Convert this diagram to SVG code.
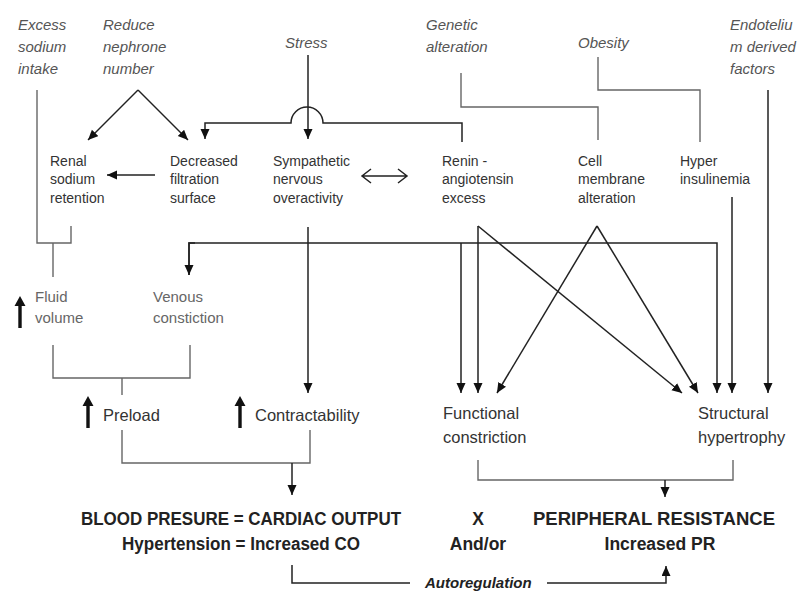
<svg xmlns="http://www.w3.org/2000/svg" width="800" height="593" viewBox="0 0 800 593">
<style>
text{font-family:"Liberation Sans",Arial,sans-serif}
.cause{font-size:15px;font-style:italic;fill:#555}
.node{font-size:14px;fill:#333}
.mid{font-size:15px;fill:#666}
.big{font-size:16.5px;fill:#333}
.res{font-size:17.5px;font-weight:bold;fill:#222}
.auto{font-size:15px;font-weight:bold;font-style:italic;fill:#222}
.ln{fill:none;stroke:#222;stroke-width:1.5}
.gl{fill:none;stroke:#666;stroke-width:1.4}
.up{fill:#111}
</style>
<defs>
<marker id="ah" markerUnits="userSpaceOnUse" markerWidth="11" markerHeight="10" refX="10" refY="4.5" orient="auto">
<path d="M0,0 L10,4.5 L0,9 z" fill="#111"/>
</marker>
<polygon id="uparrow" points="0,0 5.5,10 1.7,10 1.7,32 -1.7,32 -1.7,10 -5.5,10"/>
</defs>
<rect width="800" height="593" fill="#fff"/>

<g id="connectors">
<!-- Excess sodium intake bracket -->
<path class="gl" d="M37,90 V243 H71 V226 M53,243 V277"/>
<!-- Reduce nephrone number -->
<path class="ln" d="M138,90 L88,140" marker-end="url(#ah)"/>
<path class="ln" d="M138,90 L188,140" marker-end="url(#ah)"/>
<!-- Stress -->
<path class="ln" d="M308,55 V139" marker-end="url(#ah)"/>
<!-- Renin to Decreased filtration with hop -->
<path class="ln" d="M462,142 V123 H323 A16,16 0 0 0 291,123 H205 V139" marker-end="url(#ah)"/>
<!-- Decreased -> Renal -->
<path class="ln" d="M155,175 H107" marker-end="url(#ah)"/>
<!-- Double arrow -->
<path class="ln" d="M362,176 H407 M371,169 L362,176 L371,183 M398,169 L407,176 L398,183"/>
<!-- Genetic -->
<path class="gl" d="M461,73 V107 H598 V140"/>
<!-- Obesity -->
<path class="gl" d="M598,57 V90 H700 V142"/>
<!-- Endothelium -->
<path class="ln" d="M768,90 V393" marker-end="url(#ah)"/>
<!-- Hyperinsulinemia -->
<path class="ln" d="M732,197 V393" marker-end="url(#ah)"/>
<!-- horizontal distribution line -->
<path class="ln" d="M189,275 V243 H717 V393" marker-end="url(#ah)"/>
<path class="ln" d="M195,243 H189 V275" marker-end="url(#ah)"/>
<path class="ln" d="M461,243 V393" marker-end="url(#ah)"/>
<!-- Sympathetic -> Contractability -->
<path class="ln" d="M308,227 V393" marker-end="url(#ah)"/>
<!-- Renin -->
<path class="ln" d="M478,226 V393" marker-end="url(#ah)"/>
<path class="ln" d="M478,226 L682,393" marker-end="url(#ah)"/>
<!-- Cell membrane -->
<path class="ln" d="M597,226 L497,393" marker-end="url(#ah)"/>
<path class="ln" d="M597,226 L698,393" marker-end="url(#ah)"/>
<!-- Fluid / Venous bracket -->
<path class="gl" d="M53,345 V378 H190 V345 M122,378 V395"/>
<!-- Preload / Contractability bracket -->
<path class="gl" d="M122,430 V463 H310 V430"/>
<path class="ln" d="M292,463 V495" marker-end="url(#ah)"/>
<!-- Functional / Structural bracket -->
<path class="gl" d="M478,460 V480 H733 V460"/>
<path class="ln" d="M665,480 V497" marker-end="url(#ah)"/>
<!-- Autoregulation -->
<path class="ln" d="M292,565 V583 H410"/>
<path class="ln" d="M547,583 H666 V566" marker-end="url(#ah)"/>
</g>

<g id="excess-sodium"><text class="cause" x="18" y="30">Excess</text><text class="cause" x="18" y="52">sodium</text><text class="cause" x="18" y="74">intake</text></g>
<g id="reduce-nephrone"><text class="cause" x="103" y="30">Reduce</text><text class="cause" x="103" y="52">nephrone</text><text class="cause" x="103" y="74">number</text></g>
<g id="stress"><text class="cause" x="285" y="48">Stress</text></g>
<g id="genetic"><text class="cause" x="426" y="30">Genetic</text><text class="cause" x="426" y="52">alteration</text></g>
<g id="obesity"><text class="cause" x="578" y="48">Obesity</text></g>
<g id="endothelium"><text class="cause" x="730" y="30">Endoteliu</text><text class="cause" x="730" y="52">m derived</text><text class="cause" x="730" y="74">factors</text></g>

<g id="renal"><text class="node" x="50" y="166">Renal</text><text class="node" x="50" y="184">sodium</text><text class="node" x="50" y="203">retention</text></g>
<g id="decreased"><text class="node" x="170" y="166">Decreased</text><text class="node" x="170" y="184">filtration</text><text class="node" x="170" y="203">surface</text></g>
<g id="sympathetic"><text class="node" x="273" y="166">Sympathetic</text><text class="node" x="273" y="184">nervous</text><text class="node" x="273" y="203">overactivity</text></g>
<g id="renin"><text class="node" x="442" y="166">Renin -</text><text class="node" x="442" y="184">angiotensin</text><text class="node" x="442" y="203">excess</text></g>
<g id="cell"><text class="node" x="578" y="166">Cell</text><text class="node" x="578" y="184">membrane</text><text class="node" x="578" y="203">alteration</text></g>
<g id="hyper"><text class="node" x="680" y="166">Hyper</text><text class="node" x="680" y="184">insulinemia</text></g>

<g id="fluid"><use href="#uparrow" class="up" x="20" y="296"/><text class="mid" x="35" y="302">Fluid</text><text class="mid" x="35" y="323">volume</text></g>
<g id="venous"><text class="mid" x="153" y="302">Venous</text><text class="mid" x="153" y="323">constiction</text></g>

<g id="preload"><use href="#uparrow" class="up" x="88" y="396"/><text class="big" x="103" y="421">Preload</text></g>
<g id="contractability"><use href="#uparrow" class="up" x="240" y="396"/><text class="big" x="255" y="421">Contractability</text></g>
<g id="functional"><text class="big" x="443" y="419">Functional</text><text class="big" x="443" y="443">constriction</text></g>
<g id="structural"><text class="big" x="698" y="419">Structural</text><text class="big" x="698" y="443">hypertrophy</text></g>

<g id="cardiac-output"><text class="res" x="241" y="525" text-anchor="middle" textLength="320" lengthAdjust="spacingAndGlyphs">BLOOD PRESURE = CARDIAC OUTPUT</text><text class="res" x="241" y="550" text-anchor="middle" textLength="238" lengthAdjust="spacingAndGlyphs">Hypertension = Increased CO</text></g>
<g id="times"><text class="res" x="478" y="525" text-anchor="middle">X</text><text class="res" x="478" y="550" text-anchor="middle">And/or</text></g>
<g id="peripheral"><text class="res" x="654" y="525" text-anchor="middle" textLength="242" lengthAdjust="spacingAndGlyphs">PERIPHERAL RESISTANCE</text><text class="res" x="660" y="550" text-anchor="middle">Increased PR</text></g>
<g id="autoregulation"><text class="auto" x="425" y="588">Autoregulation</text></g>
</svg>
